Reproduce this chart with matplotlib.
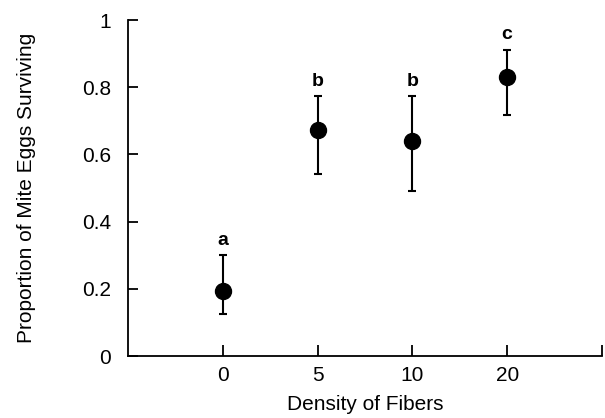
import matplotlib.pyplot as plt

plt.rcParams['font.family'] = ['Liberation Sans', 'DejaVu Sans']

densities = ["0", "5", "10", "20"]
prop_surviving = [0.193, 0.673, 0.639, 0.832]
err_upper = [0.300, 0.773, 0.773, 0.912]
err_lower = [0.125, 0.541, 0.491, 0.719]
letters = ["a", "b", "b", "c"]

pos = [1, 2, 3, 4]
yerr = [[m - lo for m, lo in zip(prop_surviving, err_lower)],
        [hi - m for m, hi in zip(prop_surviving, err_upper)]]

fig = plt.figure(figsize=(6.05, 4.18), dpi=100)
ax = fig.add_axes([0.2116, 0.148, 0.7834, 0.804])

ax.errorbar(pos, prop_surviving, yerr=yerr, fmt="o", color="black",
            markersize=11.5, elinewidth=1.5, capsize=2.8, capthick=1.5)

for p, hi, lab in zip(pos, err_upper, letters):
    ax.text(p, hi + 0.02, lab, ha="center", va="bottom",
            fontsize=14, fontweight="bold")

ax.set_xlim(0, 5)
ax.set_ylim(0, 1)
ax.set_xticks(pos + [5])
ax.set_xticklabels(densities + [""])
ax.set_yticks([0, 0.2, 0.4, 0.6, 0.8, 1])
ax.set_yticklabels(["0", "0.2", "0.4", "0.6", "0.8", "1"])

for s in ["top", "right"]:
    ax.spines[s].set_visible(False)
for s in ["left", "bottom"]:
    ax.spines[s].set_linewidth(1.3)

ax.tick_params(axis="x", direction="in", length=8, width=1.3, pad=7, labelsize=15)
ax.tick_params(axis="y", direction="in", length=7, width=1.3, pad=12, labelsize=15)

ax.set_xlabel("Density of Fibers", fontsize=15, labelpad=7)
ax.set_ylabel("Proportion of Mite Eggs Surviving", fontsize=15, labelpad=33)

fig.savefig("out.png", dpi=100)
